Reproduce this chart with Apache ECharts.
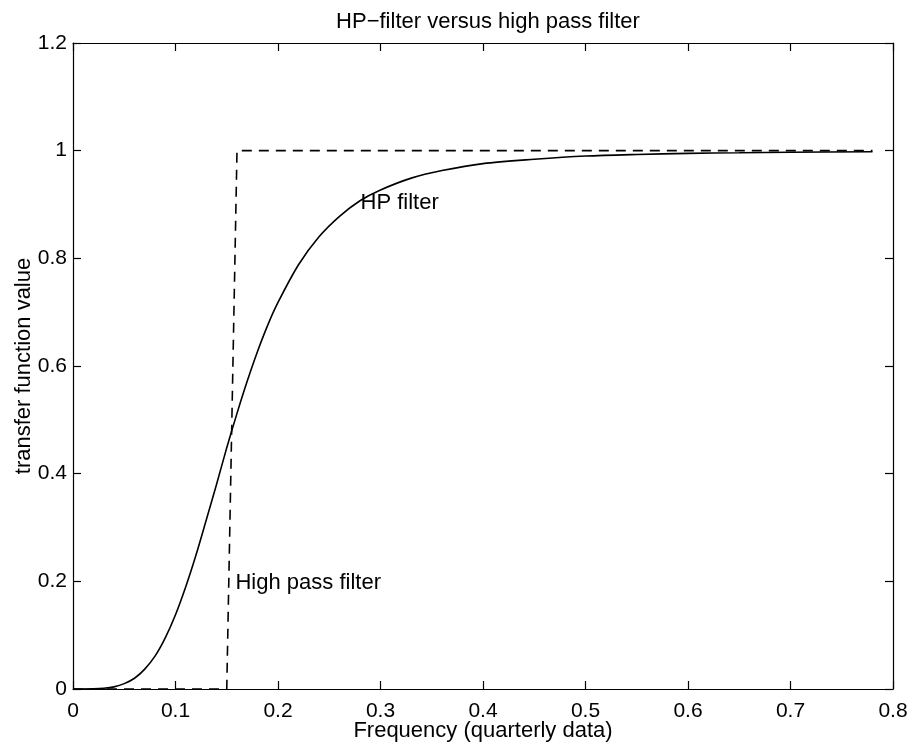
<!DOCTYPE html>
<html>
<head>
<meta charset="utf-8">
<script src="https://cdn.jsdelivr.net/npm/echarts@6/dist/echarts.min.js"></script>
<style>
  html, body { margin: 0; padding: 0; background: #fff; }
  #main { width: 912px; height: 748px; }
</style>
</head>
<body>
<div id="main"></div>
<script>
// frequency grid and HP filter gain
var freq = [0, 0.02, 0.03, 0.04, 0.05, 0.06, 0.07, 0.08, 0.09, 0.10, 0.11, 0.12, 0.13, 0.14, 0.15,
            0.16, 0.17, 0.18, 0.19, 0.20, 0.22, 0.24, 0.26, 0.28, 0.30, 0.33, 0.36, 0.40, 0.45,
            0.50, 0.55, 0.60, 0.65, 0.70, 0.78];
var hpGain = [0, 0.0003, 0.0013, 0.004, 0.010, 0.020, 0.037, 0.061, 0.095, 0.138, 0.190, 0.249, 0.314, 0.380, 0.448,
              0.512, 0.572, 0.627, 0.676, 0.718, 0.788, 0.840, 0.878, 0.907, 0.927, 0.949, 0.963, 0.976, 0.984,
              0.990, 0.993, 0.995, 0.996, 0.997, 0.998];

// ideal high pass filter (dashed)
var idealFreq = [0, 0.15, 0.16, 0.78];
var idealGain = [0, 0, 1, 1];

// text annotations
var noteText = ['HP filter', 'High pass filter'];
var noteX = [0.28, 0.158];
var noteY = [0.903, 0.197];

var xTicks = [0, 0.1, 0.2, 0.3, 0.4, 0.5, 0.6, 0.7, 0.8];
var yTicks = [0, 0.2, 0.4, 0.6, 0.8, 1, 1.2];

var font = 'Liberation Sans';
var myChart = echarts.init(document.getElementById('main'));

function pairs(xs, ys) {
    var out = [];
    for (var i = 0; i < xs.length; i++) out.push([xs[i], ys[i]]);
    return out;
}

var notes = [];
for (var i = 0; i < noteText.length; i++) {
    notes.push({ value: [noteX[i], noteY[i]], name: noteText[i] });
}

// box axis: line + inward ticks, never snapped to zero
function boxAxis(extra) {
    var a = {
        type: 'value',
        show: true,
        axisLine: { show: true, onZero: false, lineStyle: { color: '#000', width: 1.2 } },
        axisTick: { show: true, inside: true, length: 8, lineStyle: { color: '#000', width: 1.2 } },
        splitLine: { show: false },
        axisLabel: { show: false }
    };
    return Object.assign(a, extra);
}

function tickFmt(list) {
    return function (v) {
        var r = Math.round(v * 10) / 10;
        return list.indexOf(r) >= 0 ? String(r) : '';
    };
}

var option = {
    backgroundColor: '#fff',
    animation: false,
    title: {
        text: 'HP\u2212filter versus high pass filter',
        left: 483, top: 6, textAlign: 'center',
        textStyle: { fontFamily: font, fontSize: 22, fontWeight: 'normal', color: '#000' }
    },
    grid: { left: 73, right: 19, top: 43, bottom: 59, containLabel: false, outerBoundsMode: 'none' },
    xAxis: [
        boxAxis({
            min: 0, max: 0.8, interval: 0.1, position: 'bottom',
            name: 'Frequency (quarterly data)', nameLocation: 'middle', nameGap: 31, nameMoveOverlap: false,
            nameTextStyle: { fontFamily: font, fontSize: 22, color: '#000' },
            axisLabel: { show: true, margin: 12, fontFamily: font, fontSize: 21, color: '#000', formatter: tickFmt(xTicks) }
        }),
        boxAxis({ min: 0, max: 0.8, interval: 0.1, position: 'top' })
    ],
    yAxis: [
        boxAxis({
            min: 0, max: 1.2, interval: 0.2, position: 'left',
            name: 'transfer function value', nameLocation: 'middle', nameGap: 38, nameMoveOverlap: false,
            nameTextStyle: { fontFamily: font, fontSize: 22, color: '#000' },
            axisLabel: { show: true, margin: 6, fontFamily: font, fontSize: 21, color: '#000', formatter: tickFmt(yTicks) }
        }),
        boxAxis({ min: 0, max: 1.2, interval: 0.2, position: 'right' })
    ],
    series: [
        {
            name: 'HP filter', type: 'line', xAxisIndex: 0, yAxisIndex: 0,
            data: pairs(freq, hpGain), smooth: 0.3, showSymbol: false,
            lineStyle: { color: '#000', width: 1.6 }
        },
        {
            name: 'High pass filter', type: 'line', xAxisIndex: 0, yAxisIndex: 0,
            data: pairs(idealFreq, idealGain), showSymbol: false,
            lineStyle: { color: '#000', width: 1.6, type: [10, 7] }
        },
        {
            type: 'scatter', xAxisIndex: 0, yAxisIndex: 0,
            data: notes, symbolSize: 1, itemStyle: { color: 'rgba(0,0,0,0)', opacity: 1 },
            label: { show: true, position: 'right', distance: 0, opacity: 1,
                formatter: function (p) { return p.name; },
                fontFamily: font, fontSize: 22, color: '#000' }
        }
    ]
};

myChart.setOption(option);

window.onresize = function () {
    myChart.resize();
};
</script>
</body>
</html>
